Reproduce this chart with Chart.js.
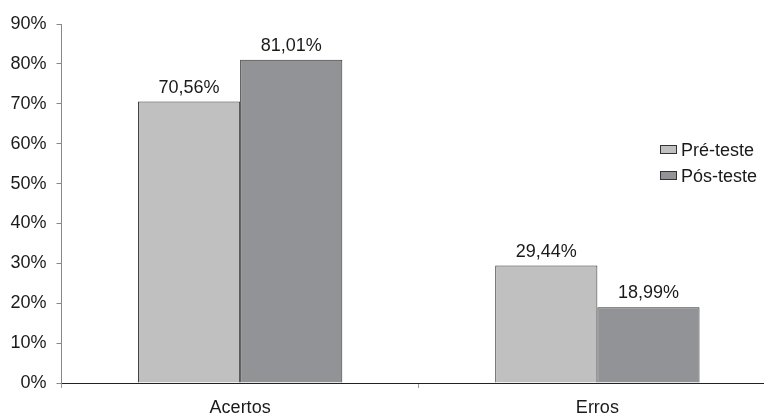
<!DOCTYPE html>
<html>
<head>
<meta charset="utf-8">
<script src="https://cdn.jsdelivr.net/npm/chart.js@4/dist/chart.umd.min.js"></script>
<style>
  html, body { margin: 0; padding: 0; background: #fff; overflow: hidden; }
  #wrap { width: 776px; height: 414px; }
</style>
</head>
<body>
<div id="wrap"><canvas id="chart" width="776" height="414"></canvas></div>
<script>
// Chart data (percent)
var categories = ['Acertos', 'Erros'];
var seriesNames = ['Pré-teste', 'Pós-teste'];
var preTeste = [70.56, 29.44];
var posTeste = [81.01, 18.99];
var yTicks = [0, 10, 20, 30, 40, 50, 60, 70, 80, 90];

var FONT = 'Arial, "Liberation Sans", sans-serif';
var fillColors = ['#c0c0c0', '#929397'];

function fmt(v) {
  return v.toFixed(2).replace('.', ',') + '%';
}

// Value labels above each bar
var valueLabels = {
  id: 'valueLabels',
  afterDatasetsDraw: function(chart) {
    var ctx = chart.ctx;
    ctx.save();
    ctx.font = '18px ' + FONT;
    ctx.fillStyle = '#1a1a1a';
    ctx.textAlign = 'center';
    ctx.textBaseline = 'bottom';
    chart.data.datasets.forEach(function(ds, i) {
      chart.getDatasetMeta(i).data.forEach(function(bar, j) {
        ctx.fillText(fmt(ds.data[j]), bar.x, bar.y - 5);
      });
    });
    ctx.restore();
  }
};

// Legend drawn inside the plot, on the right
var innerLegend = {
  id: 'innerLegend',
  afterDraw: function(chart) {
    var ctx = chart.ctx;
    ctx.save();
    ctx.font = '18px ' + FONT;
    ctx.textAlign = 'left';
    ctx.textBaseline = 'middle';
    chart.data.datasets.forEach(function(ds, i) {
      var y = 150 + i * 26;
      ctx.fillStyle = ds.backgroundColor;
      ctx.fillRect(660.5, y - 4.5, 16, 8);
      ctx.strokeStyle = '#333';
      ctx.lineWidth = 1;
      ctx.strokeRect(660.5, y - 4.5, 16, 8);
      ctx.fillStyle = '#1a1a1a';
      ctx.fillText(ds.label, 681, y + 1);
    });
    ctx.restore();
  }
};

new Chart(document.getElementById('chart'), {
  type: 'bar',
  data: {
    labels: categories,
    datasets: [
      {
        label: seriesNames[0],
        data: preTeste,
        backgroundColor: fillColors[0],
        borderColor: '#333',
        borderWidth: 1,
        categoryPercentage: 0.572,
        barPercentage: 1
      },
      {
        label: seriesNames[1],
        data: posTeste,
        backgroundColor: fillColors[1],
        borderColor: '#333',
        borderWidth: 1,
        categoryPercentage: 0.572,
        barPercentage: 1
      }
    ]
  },
  options: {
    responsive: false,
    animation: false,
    layout: { padding: { top: 24, right: 0, left: 0, bottom: 0 } },
    plugins: {
      legend: { display: false },
      tooltip: { enabled: false }
    },
    scales: {
      x: {
        afterFit: function(scale) { scale.height = 31; },
        grid: {
          drawOnChartArea: false,
          drawTicks: true,
          tickLength: 5,
          color: '#999',
          offset: true
        },
        border: { color: '#222', width: 1 },
        ticks: {
          color: '#1a1a1a',
          font: { family: FONT, size: 18 },
          padding: 9
        }
      },
      y: {
        min: 0,
        max: 90,
        afterFit: function(scale) { scale.width = 61.5; },
        afterBuildTicks: function(scale) {
          scale.ticks = yTicks.map(function(v) { return { value: v }; });
        },
        grid: {
          drawOnChartArea: false,
          drawTicks: true,
          tickLength: 5,
          color: '#888'
        },
        border: { color: '#888', width: 1 },
        ticks: {
          color: '#1a1a1a',
          font: { family: FONT, size: 18 },
          padding: 10,
          callback: function(v) { return v + '%'; }
        }
      }
    }
  },
  plugins: [valueLabels, innerLegend]
});
</script>
</body>
</html>
